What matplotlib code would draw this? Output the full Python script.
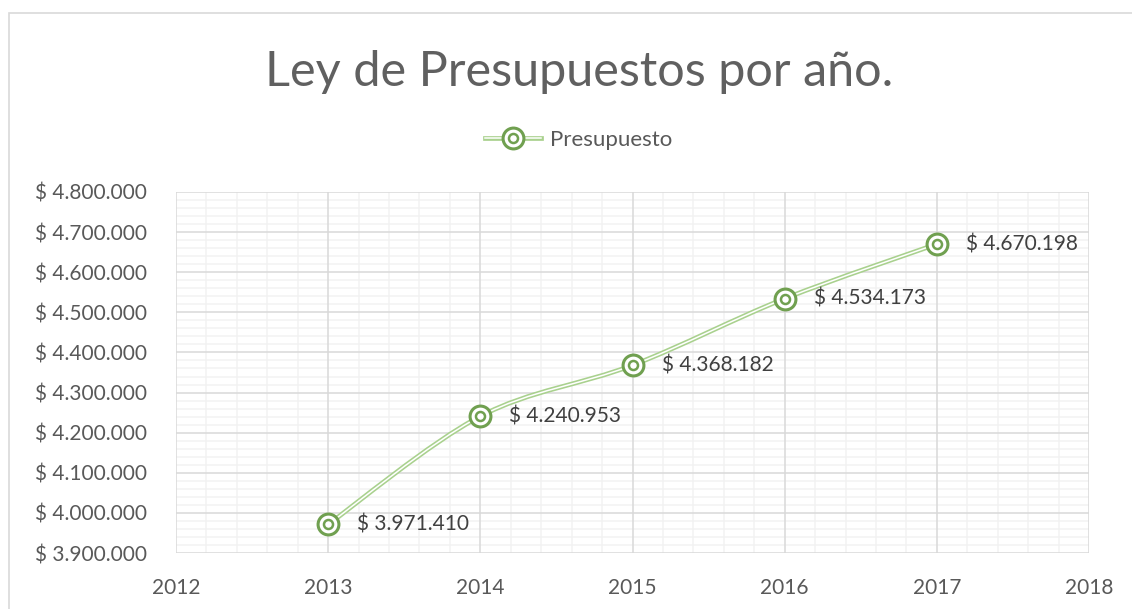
import numpy as np
import matplotlib
matplotlib.use("Agg")
import matplotlib.pyplot as plt
from matplotlib.path import Path
from matplotlib.patches import PathPatch, Rectangle
from matplotlib.lines import Line2D
from matplotlib.ticker import MultipleLocator, FuncFormatter

years = [2013, 2014, 2015, 2016, 2017]
presupuesto = [3971410, 4240953, 4368182, 4534173, 4670198]
series_name = "Presupuesto"
title = "Ley de Presupuestos por año."

LINE = "#A9D18E"
MARK = "#70A050"
TXT = "#595959"
FONT = "Lato"
FS = 15


def peso(v, pos=None):
    return "$ " + f"{int(round(v)):,}".replace(",", ".")


def smooth_path(xs, ys):
    # Excel style smoothed line: cubic bezier through the points
    x = np.asarray(xs, float)
    y = np.asarray(ys, float)
    n = len(x)
    verts = [(x[0], y[0])]
    codes = [Path.MOVETO]
    for i in range(n - 1):
        i0 = max(i - 1, 0)
        i3 = min(i + 2, n - 1)
        c1 = (x[i] + (x[i + 1] - x[i0]) / 6, y[i] + (y[i + 1] - y[i0]) / 6)
        c2 = (x[i + 1] - (x[i3] - x[i]) / 6, y[i + 1] - (y[i3] - y[i]) / 6)
        verts += [c1, c2, (x[i + 1], y[i + 1])]
        codes += [Path.CURVE4] * 3
    return Path(verts, codes)


fig = plt.figure(figsize=(11.32, 6.09), dpi=100)
fig.patches.append(Rectangle((9 / 1132, -0.1), 1.2, 1.1 - 13 / 609,
                             transform=fig.transFigure, fill=False,
                             edgecolor="#D9D9D9", lw=1.2))

ax = fig.add_axes([176 / 1132, 1 - 553 / 609, (1089 - 176) / 1132, (553 - 192) / 609])
ax.set_xlim(2012, 2018)
ax.set_ylim(3900000, 4800000)
ax.xaxis.set_major_locator(MultipleLocator(1))
ax.xaxis.set_minor_locator(MultipleLocator(0.2))
ax.yaxis.set_major_locator(MultipleLocator(100000))
ax.yaxis.set_minor_locator(MultipleLocator(20000))
ax.yaxis.set_major_formatter(FuncFormatter(peso))
ax.xaxis.set_major_formatter(FuncFormatter(lambda v, p: f"{int(v)}"))
for s in ax.spines.values():
    s.set_visible(False)
ax.tick_params(which="both", length=0)
ax.tick_params(axis="y", pad=21, labelsize=FS, labelcolor=TXT)
ax.tick_params(axis="x", pad=18, labelsize=FS, labelcolor=TXT)
for lab in ax.get_xticklabels() + ax.get_yticklabels():
    lab.set_fontfamily(FONT)

# gridlines: minor below major
x0, x1 = ax.get_xlim()
y0, y1 = ax.get_ylim()
ax.vlines(ax.xaxis.get_minorticklocs(), y0, y1, color="#F2F2F2", lw=1.1, zorder=0.3)
ax.hlines(ax.yaxis.get_minorticklocs(), x0, x1, color="#F2F2F2", lw=1.1, zorder=0.3)
ax.vlines(ax.xaxis.get_majorticklocs(), y0, y1, color="#D9D9D9", lw=1.1, zorder=0.4)
ax.hlines(ax.yaxis.get_majorticklocs(), x0, x1, color="#D9D9D9", lw=1.1, zorder=0.4)
ax.set_xlim(x0, x1)
ax.set_ylim(y0, y1)

p = smooth_path(years, presupuesto)
ax.add_patch(PathPatch(p, fill=False, edgecolor=LINE, lw=3.4, capstyle="round"))
ax.add_patch(PathPatch(p, fill=False, edgecolor="white", lw=1.1))
ax.plot(years, presupuesto, ls="none", marker="o", ms=15, mfc="white", mec=MARK, mew=2.2)
ax.plot(years, presupuesto, ls="none", marker="o", ms=6.5, mfc="white", mec=MARK, mew=1.8)

for xv, yv in zip(years, presupuesto):
    ax.annotate(peso(yv), (xv, yv), xytext=(21, 0), textcoords="offset points",
                ha="left", va="center", fontsize=FS, color="#404040", family=FONT)

fig.text(0.512, 1 - 72 / 609, title, ha="center", va="center", fontsize=35,
         color="#606060", family=FONT, fontweight="normal")

h = (Line2D([], [], color=LINE, lw=3.4), Line2D([], [], color="white", lw=1.1),
     Line2D([], [], ls="none", marker="o", ms=15, mfc="white", mec=MARK, mew=2.2),
     Line2D([], [], ls="none", marker="o", ms=6.5, mfc="white", mec=MARK, mew=1.8))
leg = fig.legend([h], [series_name], loc="center", bbox_to_anchor=(0.511, 1 - 140 / 609),
                 frameon=False, handlelength=2.5, handletextpad=0.4,
                 prop={"family": FONT, "size": 16})
for t in leg.get_texts():
    t.set_color(TXT)

fig.savefig("out.png", dpi=100)
